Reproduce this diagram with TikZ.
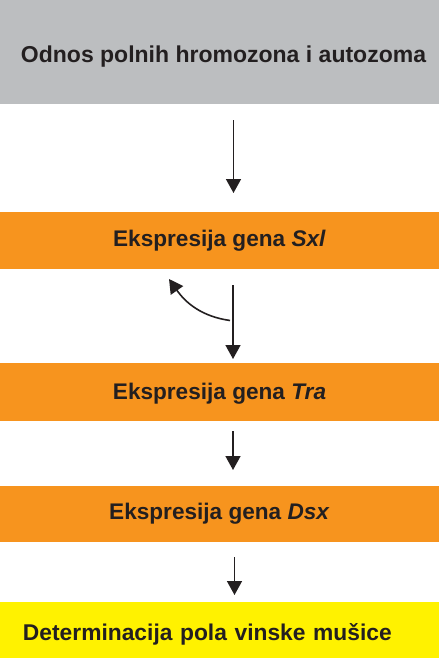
\documentclass[tikz,border=0pt]{standalone}
\usepackage{fontspec}
\setmainfont{Liberation Sans}
\usetikzlibrary{arrows.meta}
\definecolor{boxgray}{HTML}{BCBEC0}
\definecolor{boxorange}{HTML}{F7941E}
\definecolor{boxyellow}{HTML}{FFF200}
\definecolor{txt}{HTML}{231F20}
\tikzset{
  band/.style={minimum width=439pt, inner sep=0pt, outer sep=0pt, anchor=north west, text=txt, font=\bfseries},
  orangeband/.style={band, fill=boxorange, font=\bfseries\fontsize{22.6pt}{26pt}\selectfont},
  arr/.style={line width=1.6pt, draw=txt, -{Triangle[width=15pt,length=14pt]}},
}
\begin{document}
\begin{tikzpicture}[x=1pt,y=-1pt]
\useasboundingbox (0,0) rectangle (439,662);
\node[band, fill=boxgray, minimum height=103.5pt, text height=21pt, text depth=0pt,
      font=\bfseries\fontsize{23pt}{27pt}\selectfont] (g) at (0,0)
  {\hspace*{8pt}Odnos polnih hromozona i autozoma};
\node[orangeband, minimum height=56.7pt, text height=16pt, text depth=3.3pt] (s) at (0,212)
  {Ekspresija gena \textit{Sxl}};
\node[orangeband, minimum height=58pt, text height=16pt, text depth=2pt] (t) at (0,363)
  {Ekspresija gena \textit{Tra}};
\node[orangeband, minimum height=56pt, text height=16pt, text depth=5.4pt] (d) at (0,486)
  {Ekspresija gena \textit{Dsx}};
\node[band, fill=boxyellow, minimum height=55.7pt, text height=20pt, text depth=0.3pt,
      text width=393pt, align=left,
      font=\bfseries\fontsize{22.8pt}{27pt}\selectfont] (y) at (0,602.3)
  {Determinacija pola vinske mušice};
\draw[arr] ([xshift=14pt,yshift=-16.5pt]g.south) -- ([xshift=14pt,yshift=19pt]s.north);
\draw[arr] ([xshift=13.5pt,yshift=-16.3pt]s.south) -- ([xshift=13.5pt,yshift=4pt]t.north);
\draw[arr] ([xshift=10.5pt,yshift=42.5pt]t.north) to[out=172,in=-55] ([xshift=-50.5pt,yshift=-10.3pt]s.south);
\draw[arr] ([xshift=13.5pt,yshift=-10pt]t.south) -- ([xshift=13.5pt,yshift=16pt]d.north);
\draw[arr] ([xshift=15pt,yshift=-15pt]d.south) -- ([xshift=15pt,yshift=7.3pt]y.north);
\end{tikzpicture}
\end{document}
